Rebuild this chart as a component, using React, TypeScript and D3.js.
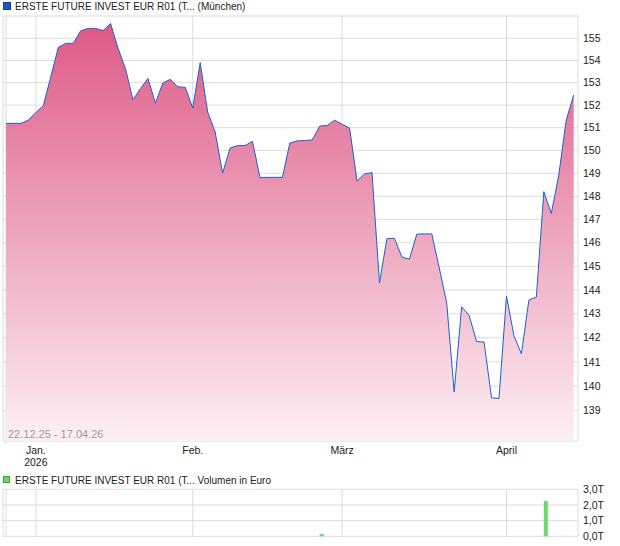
import React from "react";
import * as d3 from "d3";

const prices = [
  151.19, 151.19, 151.19, 151.34, 151.67, 151.98, 153.27, 154.59, 154.77, 154.77,
  155.34, 155.45, 155.45, 155.35, 155.67, 154.55, 153.63, 152.23, 152.74, 153.19,
  152.09, 152.99, 153.15, 152.82, 152.79, 151.87, 153.9, 151.69, 150.81, 149.01,
  150.1, 150.21, 150.21, 150.4, 148.81, 148.82, 148.82, 148.82, 150.32, 150.42,
  150.43, 150.46, 151.07, 151.1, 151.33, 151.15, 150.98, 148.66, 148.97, 149.03,
  144.29, 146.18, 146.19, 145.39, 145.3, 146.37, 146.38, 146.38, 144.93, 143.45,
  139.76, 143.29, 142.93, 141.84, 141.82, 139.52, 139.5, 143.74, 142.08, 141.33,
  143.57, 143.7, 148.2, 147.26, 148.92, 151.34, 152.45,
];
const monthTickIndex = [4, 25, 45, 67];
const monthLabels = ["Jan.", "Feb.", "März", "April"];
const yearLabels = ["2026", "", "", ""];
const priceTicks = [139, 140, 141, 142, 143, 144, 145, 146, 147, 148, 149, 150, 151, 152, 153, 154, 155];
const volumeIndex = [42, 72];
const volumeValues = [0.15, 2.25];
const volumeTicks = [0, 1, 2, 3];
const volumeTickLabels = ["0,0T", "1,0T", "2,0T", "3,0T"];
const title = "ERSTE FUTURE INVEST EUR R01 (T... (München)";
const volumeTitle = "ERSTE FUTURE INVEST EUR R01 (T... Volumen in Euro";
const rangeLabel = "22.12.25 - 17.04.26";

const FONT = "'Liberation Sans', Arial, sans-serif";
const GRID = "#dcdcdc";

export default function App() {
  const left = 3, right = 578, top = 16, bottom = 441;
  const x = d3.scaleLinear().domain([0, prices.length - 1]).range([6, 573.7]);
  const y = d3.scaleLog().domain([139, 155]).range([410.7, 38.3]);
  const vTop = 489.3, vBottom = 536.3;
  const vy = d3.scaleLinear().domain([0, 3]).range([vBottom, vTop]);

  const area = d3.area<number>().x((_, i) => x(i)).y0(bottom).y1((d) => y(d));
  const line = d3.line<number>().x((_, i) => x(i)).y((d) => y(d));

  return (
    <svg width={620} height={546} style={{ position: "absolute", left: 0, top: 0, background: "#fff" }} fontFamily={FONT}>
      <defs>
        <linearGradient id="areaGrad" gradientUnits="userSpaceOnUse" x1={0} y1={23} x2={0} y2={bottom}>
          <stop offset="0" stopColor="#dd5a86" />
          <stop offset="1" stopColor="#fdf0f4" />
        </linearGradient>
      </defs>

      {/* title */}
      <rect x={3.5} y={2.5} width={7} height={7} fill="#1b56b8" stroke="#123e88" />
      <text x={15} y={10} fontSize={10} fill="#222">{title}</text>

      {/* grid */}
      {priceTicks.map((t) => (
        <line key={t} x1={left} x2={right} y1={y(t)} y2={y(t)} stroke={GRID} />
      ))}
      {monthTickIndex.map((m) => (
        <line key={m} x1={x(m)} x2={x(m)} y1={top} y2={bottom} stroke={GRID} />
      ))}
      <rect x={left} y={top} width={right - left} height={bottom - top} fill="none" stroke={GRID} />
      <line x1={x(0)} x2={x(0)} y1={top} y2={bottom + 3} stroke={GRID} />

      {/* area + line */}
      <path d={area(prices) || ""} fill="url(#areaGrad)" />
      <path d={line(prices) || ""} fill="none" stroke="#1d5fd1" strokeWidth={1} />

      {/* range label */}
      <text x={8} y={438} fontSize={11} fill="#9a9a9a">{rangeLabel}</text>

      {/* y labels */}
      {priceTicks.map((t) => (
        <text key={t} x={583} y={y(t)} dy="0.35em" fontSize={10.5} fill="#222">{t}</text>
      ))}
      {/* x labels */}
      {monthTickIndex.map((m, i) => (
        <g key={m}>
          <text x={x(m)} y={454} textAnchor="middle" fontSize={10.5} fill="#222">{monthLabels[i]}</text>
          {yearLabels[i] && (
            <text x={x(m)} y={466} textAnchor="middle" fontSize={10.5} fill="#222">{yearLabels[i]}</text>
          )}
        </g>
      ))}

      {/* volume chart */}
      <rect x={3.5} y={476.5} width={6} height={6} fill="#6fd86f" stroke="#3d9a3d" />
      <text x={15} y={484} fontSize={10} fill="#222">{volumeTitle}</text>
      {volumeTicks.map((t) => (
        <line key={t} x1={left} x2={right} y1={vy(t)} y2={vy(t)} stroke={GRID} />
      ))}
      {monthTickIndex.map((m) => (
        <line key={m} x1={x(m)} x2={x(m)} y1={vTop} y2={vBottom} stroke={GRID} />
      ))}
      <line x1={left} x2={left} y1={vTop} y2={vBottom} stroke={GRID} />
      <line x1={x(0)} x2={x(0)} y1={vTop} y2={vBottom} stroke={GRID} />
      <line x1={right} x2={right} y1={vTop} y2={vBottom} stroke={GRID} />
      {volumeIndex.map((idx, i) => (
        <rect key={idx} x={x(idx)} y={vy(volumeValues[i])} width={4} height={vBottom - vy(volumeValues[i])} fill="#6fd86f" />
      ))}
      {volumeTicks.map((t, i) => (
        <text key={t} x={583} y={vy(t)} dy="0.35em" fontSize={10.5} fill="#222">{volumeTickLabels[i]}</text>
      ))}
    </svg>
  );
}
